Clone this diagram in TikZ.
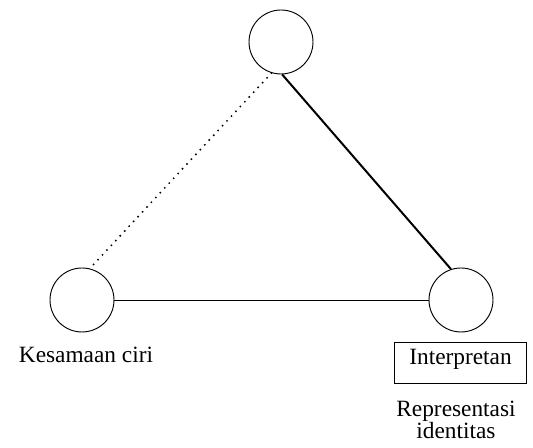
\documentclass[tikz,border=0pt]{standalone}
\usepackage{fontspec}
\setmainfont{Liberation Serif}
\usepackage{tikz}

\begin{document}
\begin{tikzpicture}[x=0.75pt, y=-0.75pt,
        lingkaran/.style={shape=circle, draw, line width=0.7pt, minimum size=48pt, inner sep=0pt},
        label teks/.style={font=\fontsize{17.5}{16}\selectfont, inner sep=0pt}]
        \useasboundingbox (0, 0) rectangle (533, 448);
        \node[lingkaran] (A1) at (281, 42) {};
        \node[lingkaran] (A2) at (82, 300) {};
        \node[lingkaran] (A3) at (461, 300) {};
        \draw[line width=1.6pt, dash pattern=on 0pt off 4.9pt, line cap=round] (A1.253) to (A2.76);
        \draw[line width=1.5pt] (A1.272) to (A3.108);
        \draw[line width=0.6pt] (A2) to (A3);
        \node[label teks, anchor=base] (K1) at (86, 363) {Kesamaan ciri};
        \node[label teks, draw, line width=0.7pt, minimum width=99pt, minimum height=31pt] (K2) at (460.5, 363) {};
        \node[label teks, anchor=base] (K3) at (K2.center |- 0, 365) {Interpretan};
        \node[label teks, align=center] (K4) at (456, 420) {Representasi\\identitas};
    \end{tikzpicture}
\end{document}
